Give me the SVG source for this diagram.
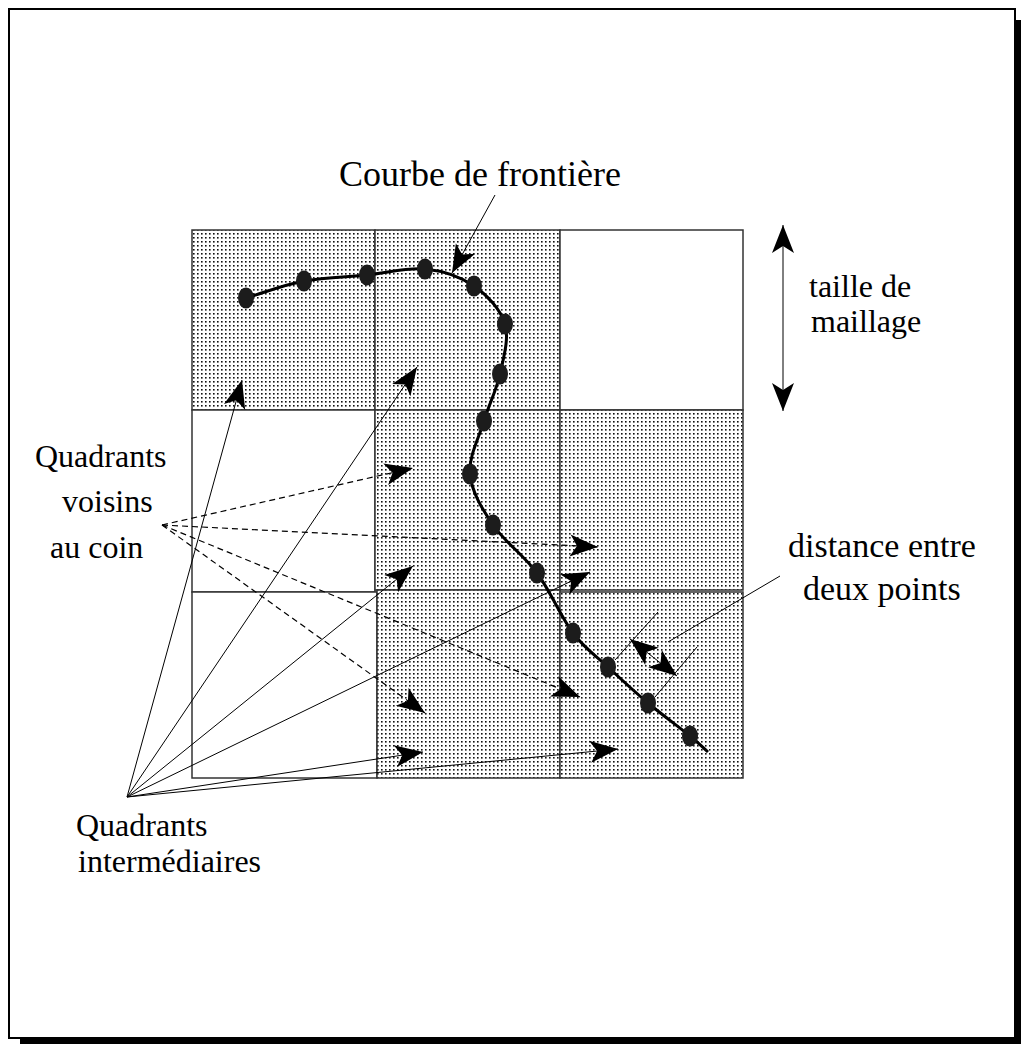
<svg xmlns="http://www.w3.org/2000/svg" width="1021" height="1044" viewBox="0 0 1021 1044">
<defs>
<pattern id="dots" width="4" height="4" patternUnits="userSpaceOnUse">
<rect width="4" height="4" fill="#fff"/>
<rect x="1" y="1" width="1.6" height="1.6" fill="#111"/>
</pattern>
<marker id="ah" viewBox="-30 -12 32 24" refX="0" refY="0" markerWidth="32" markerHeight="24" markerUnits="userSpaceOnUse" orient="auto-start-reverse">
<path d="M0,0 L-28,-11 L-21,0 L-28,11 Z" fill="#000"/>
</marker>
</defs>
<style>
.frame{fill:#fff;stroke:#000;stroke-width:2}
.cell{stroke:#333;stroke-width:1.5}
.st{fill:url(#dots)}
.wh{fill:#fff}
.thin{fill:none;stroke:#000;stroke-width:1}
.dash{fill:none;stroke:#000;stroke-width:1.2;stroke-dasharray:6 4}
.curve{fill:none;stroke:#000;stroke-width:3}
.pt{fill:#1c1c1c}
text{font-family:"Liberation Serif","Times New Roman",serif;font-size:32px;fill:#000}
.big{font-size:36px}
.mid{font-size:34px}
</style>
<rect x="0" y="0" width="1021" height="1044" fill="#fff"/>
<rect x="1016" y="20" width="5" height="1024" fill="#000"/>
<rect x="20" y="1038" width="1001" height="6" fill="#000"/>
<rect class="frame" x="9" y="9" width="1006" height="1029"/>

<g id="grid">
<g id="cell-r1c1"><rect class="cell st" x="192" y="230" width="183" height="180"/></g>
<g id="cell-r1c2"><rect class="cell st" x="375" y="230" width="185" height="180"/></g>
<g id="cell-r1c3"><rect class="cell wh" x="560" y="230" width="183" height="180"/></g>
<g id="cell-r2c1"><rect class="cell wh" x="192" y="410" width="183" height="182"/></g>
<g id="cell-r2c2"><rect class="cell st" x="375" y="410" width="185" height="180"/></g>
<g id="cell-r2c3"><rect class="cell st" x="560" y="410" width="183" height="180"/></g>
<g id="cell-r3c1"><rect class="cell wh" x="192" y="592" width="185" height="186"/></g>
<g id="cell-r3c2"><rect class="cell st" x="377" y="590" width="183" height="188"/></g>
<g id="cell-r3c3"><rect class="cell st" x="560" y="592" width="183" height="186"/></g>
</g>

<g id="boundary-curve">
<path class="curve" d="M246,298 C265.3,292.3 283.8,284.8 304,281 C324.2,277.2 346.8,277 367,275 C387.2,273 407.2,267.2 425,269 C442.8,270.8 460.7,276.8 474,286 C487.3,295.2 500.7,309.3 505,324 C509.3,338.7 503.5,357.8 500,374 C496.5,390.2 489,404.3 484,421 C479,437.7 468.5,456.7 470,474 C471.5,491.3 481.8,508.5 493,525 C504.2,541.5 523.7,555 537,573 C550.3,591 561.2,617.3 573,633 C584.8,648.7 595.5,655.3 608,667 C620.5,678.7 634.3,691.5 648,703 C661.7,714.5 680,727.8 690,736 C700,744.2 702,746.7 708,752"/>
<ellipse class="pt" cx="246" cy="298" rx="8" ry="10.5"/>
<ellipse class="pt" cx="304" cy="281" rx="8" ry="10.5"/>
<ellipse class="pt" cx="367" cy="275" rx="8" ry="10.5"/>
<ellipse class="pt" cx="425" cy="269" rx="8" ry="10.5"/>
<ellipse class="pt" cx="474" cy="286" rx="8" ry="10.5"/>
<ellipse class="pt" cx="505" cy="324" rx="8" ry="10.5"/>
<ellipse class="pt" cx="500" cy="374" rx="8" ry="10.5"/>
<ellipse class="pt" cx="484" cy="421" rx="8" ry="10.5"/>
<ellipse class="pt" cx="470" cy="474" rx="8" ry="10.5"/>
<ellipse class="pt" cx="493" cy="525" rx="8" ry="10.5"/>
<ellipse class="pt" cx="537" cy="573" rx="8" ry="10.5"/>
<ellipse class="pt" cx="573" cy="633" rx="8" ry="10.5"/>
<ellipse class="pt" cx="608" cy="667" rx="8" ry="10.5"/>
<ellipse class="pt" cx="648" cy="703" rx="8" ry="10.5"/>
<ellipse class="pt" cx="690" cy="736" rx="8" ry="10.5"/>
</g>

<g id="connectors">
<line class="thin" x1="495" y1="195" x2="452" y2="273" marker-end="url(#ah)"/>
<line class="thin" x1="783" y1="225" x2="783" y2="411" marker-start="url(#ah)" marker-end="url(#ah)"/>
<line class="thin" x1="127" y1="797" x2="242" y2="380" marker-end="url(#ah)"/>
<line class="thin" x1="127" y1="797" x2="417" y2="367" marker-end="url(#ah)"/>
<line class="thin" x1="127" y1="797" x2="413" y2="566" marker-end="url(#ah)"/>
<line class="thin" x1="127" y1="797" x2="590" y2="572" marker-end="url(#ah)"/>
<line class="thin" x1="127" y1="797" x2="423" y2="752" marker-end="url(#ah)"/>
<line class="thin" x1="127" y1="797" x2="618" y2="749" marker-end="url(#ah)"/>
<line class="dash" x1="162" y1="525" x2="413" y2="468" marker-end="url(#ah)"/>
<line class="dash" x1="162" y1="525" x2="598" y2="547" marker-end="url(#ah)"/>
<line class="dash" x1="162" y1="525" x2="425" y2="713" marker-end="url(#ah)"/>
<line class="dash" x1="162" y1="525" x2="580" y2="697" marker-end="url(#ah)"/>
<line class="thin" x1="615" y1="660" x2="658" y2="612"/>
<line class="thin" x1="655" y1="697" x2="697" y2="647"/>
<line class="thin" x1="630" y1="639" x2="677" y2="676" marker-start="url(#ah)" marker-end="url(#ah)"/>
<line class="thin" x1="780" y1="576" x2="668" y2="642"/>
</g>

<g id="labels">
<text class="big" x="339" y="186">Courbe de frontière</text>
<text x="809" y="297">taille de</text>
<text x="811" y="332">maillage</text>
<text x="35" y="467">Quadrants</text>
<text x="62" y="512">voisins</text>
<text x="50" y="558">au coin</text>
<text class="mid" x="788" y="557">distance entre</text>
<text class="mid" x="803" y="600">deux points</text>
<text x="76" y="836">Quadrants</text>
<text x="78" y="872">intermédiaires</text>
</g>
</svg>
